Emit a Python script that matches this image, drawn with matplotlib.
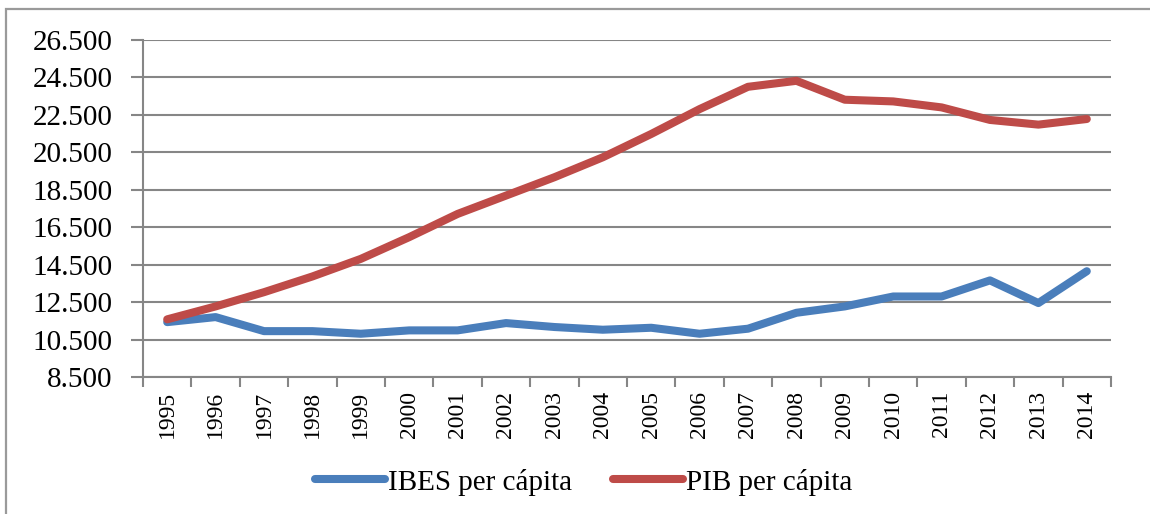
"""IBES per cápita vs PIB per cápita, 1995-2014."""

import matplotlib
matplotlib.use("Agg")
import matplotlib.pyplot as plt
import matplotlib.ticker as mticker
import numpy as np
from matplotlib.patches import Rectangle

# Data
years = [str(y) for y in range(1995, 2015)]
ibes = [11430, 11700, 10950, 10950, 10810, 10990, 10990, 11380, 11170, 11025,
        11130, 10810, 11080, 11930, 12270, 12800, 12800, 13660, 12450, 14150]
pib = [11580, 12270, 13030, 13870, 14810, 15970, 17210, 18190, 19170, 20235,
       21480, 22810, 24000, 24320, 23310, 23220, 22900, 22230, 21980, 22280]
series_names = ["IBES per cápita", "PIB per cápita"]
yticks = list(range(8500, 26501, 2000))

FONT = "Liberation Serif"
plt.rcParams["font.family"] = "serif"
plt.rcParams["font.serif"] = [FONT, "DejaVu Serif"]

grey = "#868686"
blue = "#4A7EBB"
red = "#BE4B48"

fig = plt.figure(figsize=(11.5, 5.14), dpi=100)
ax = fig.add_axes([143 / 1150, 1 - 377 / 514, (1111 - 143) / 1150, (377 - 40) / 514])

# Outer chart frame (cropped at right and bottom)
fig.patches.append(Rectangle((6 / 1150, -0.1), 1.2, 1 - 9 / 514 + 0.1,
                             transform=fig.transFigure, fill=False,
                             edgecolor="#9a9a9a", linewidth=1.6))

x = np.arange(len(years))
ax.plot(x, ibes, color=blue, linewidth=5.8, solid_capstyle="round",
        solid_joinstyle="round", label=series_names[0], zorder=3)
ax.plot(x, pib, color=red, linewidth=5.8, solid_capstyle="round",
        solid_joinstyle="round", label=series_names[1], zorder=3)

ax.set_xlim(-0.5, len(years) - 0.5)
ax.set_ylim(yticks[0], yticks[-1])
ax.set_yticks(yticks)
ax.yaxis.set_major_formatter(
    mticker.FuncFormatter(lambda v, _: f"{int(v):,}".replace(",", ".")))
ax.yaxis.grid(True, color=grey, linewidth=1.5)
ax.set_axisbelow(True)

ax.set_xticks(x)
ax.set_xticklabels(years, rotation=90)
ax.set_xticks(np.arange(-0.5, len(years)), minor=True)
ax.tick_params(axis="x", which="major", length=0, pad=10, labelsize=17)
ax.tick_params(axis="x", which="minor", length=7, width=1.5, color=grey)
ax.tick_params(axis="y", length=9, width=1.5, color=grey, labelsize=21, pad=13)
for lab in ax.get_xticklabels() + ax.get_yticklabels():
    lab.set_family(FONT)

for side in ["top", "right"]:
    ax.spines[side].set_visible(False)
for side in ["left", "bottom"]:
    ax.spines[side].set_color(grey)
    ax.spines[side].set_linewidth(1.5)

fig.legend(loc="center", bbox_to_anchor=(584 / 1150, 1 - 482 / 514), ncol=2,
           frameon=False, prop={"family": FONT, "size": 21}, handlelength=2.4,
           handletextpad=0.1, columnspacing=1.4)

fig.savefig("out.png", dpi=100)
